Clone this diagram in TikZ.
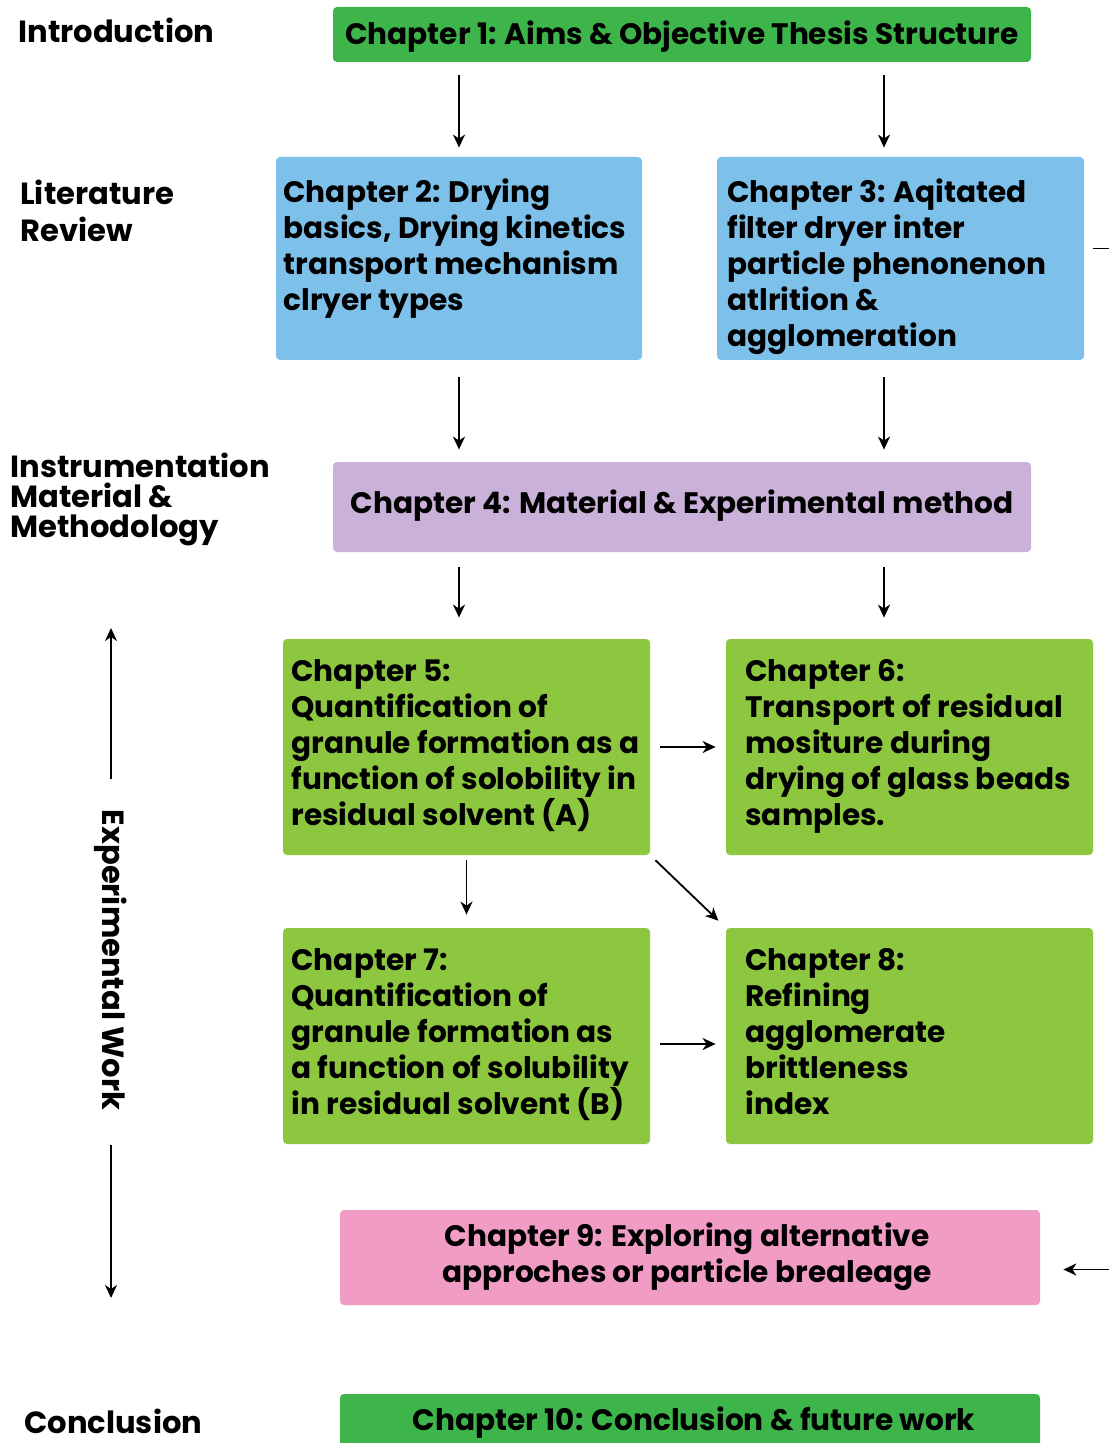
\documentclass[tikz,border=0pt]{standalone}
\usepackage{fontspec}
\setmainfont{Poppins}
\usetikzlibrary{arrows.meta,calc,fit}
\definecolor{dgreen}{HTML}{3DB54A}
\definecolor{lblue}{HTML}{7DC1EB}
\definecolor{lav}{HTML}{C9B1D9}
\definecolor{lime}{HTML}{8DC63F}
\definecolor{pinkc}{HTML}{F09CC4}
\begin{document}
\begin{tikzpicture}[x=0.5pt,y=-0.5pt,
  box/.style={inner sep=0pt, rounded corners=2pt, draw=none},
  txt/.style={inner sep=0pt, align=left, font=\fontsize{14.8}{18}\selectfont\bfseries},
  ctxt/.style={inner sep=0pt, align=center, font=\fontsize{14.8}{18}\selectfont\bfseries},
  side/.style={inner sep=0pt, align=left, font=\fontsize{15.3}{18.5}\selectfont\bfseries},
  arr/.style={line width=0.9pt, -{Stealth[length=6.5pt,width=6pt,inset=2pt]}}]
\useasboundingbox (0,0) rectangle (1108,1443);
% boxes
\node[box, fill=dgreen, fit={(333,7)(1031,62)}] (c1) {};
\node[box, fill=lblue, fit={(276,157)(642,360)}] (c2) {};
\node[box, fill=lblue, fit={(717,157)(1084,360)}] (c3) {};
\node[box, fill=lav, fit={(333,462)(1031,552)}] (c4) {};
\node[box, fill=lime, fit={(283,639)(650,855)}] (c5) {};
\node[box, fill=lime, fit={(726,639)(1093,855)}] (c6) {};
\node[box, fill=lime, fit={(283,928)(650,1144)}] (c7) {};
\node[box, fill=lime, fit={(726,928)(1093,1144)}] (c8) {};
\node[box, fill=pinkc, fit={(340,1210)(1040,1305)}] (c9) {};
\node[box, fill=dgreen, fit={(340,1394)(1040,1460)}] (c10) {};
% texts
\node[ctxt] (c1t) at (682,37) {Chapter 1: Aims \& Objective Thesis Structure};
\node[txt, anchor=north west] (c2t) at (283,178) {Chapter 2: Drying\\basics, Drying kinetics\\transport mechanism\\clryer types};
\node[txt, anchor=north west] (c3t) at (727,178) {Chapter 3: Aqitated\\filter dryer inter\\particle phenonenon\\atlrition \&\\agglomeration};
\node[ctxt] (c4t) at (682,506) {Chapter 4: Material \& Experimental method};
\node[txt, anchor=north west] (c5t) at (291,659) {Chapter 5:\\Quantification of\\granule formation as a\\function of solobility in\\residual solvent (A)};
\node[txt, anchor=north west] (c6t) at (745,659) {Chapter 6:\\Transport of residual\\mositure during\\drying of glass beads\\samples.};
\node[txt, anchor=north west] (c7t) at (291,948) {Chapter 7:\\Quantification of\\granule formation as\\a function of solubility\\in residual solvent (B)};
\node[txt, anchor=north west] (c8t) at (745,948) {Chapter 8:\\Refining\\agglomerate\\brittleness\\index};
\node[ctxt] (c9t) at (687,1257) {Chapter 9: Exploring alternative\\approches or particle brealeage};
\node[ctxt] (c10t) at (694,1423) {Chapter 10: Conclusion \& future work};
% side labels
\node[side, anchor=west] (l1) at (18,30) {Introduction};
\node[side, anchor=north west] (l2) at (20,180) {Literature\\Review};
\node[side, anchor=north west, font=\fontsize{15.3}{15}\selectfont\bfseries] (l3) at (10,453) {Instrumentation\\Material \&\\Methodology};
\node[side, anchor=west] (l4) at (24,1421) {Conclusion};
\node[side, rotate=-90] (ew) at (111,960) {Experimental Work};
\coordinate (ewtop) at (111,628);
\coordinate (ewbot) at (111,1298);
\coordinate (xr) at (884,0);
\coordinate (rt) at (1140,0);
% connectors
\draw[arr, shorten <=6.5pt, shorten >=4.5pt] (c1.south -| c2.north) -- (c2.north);
\draw[arr, shorten <=6.5pt, shorten >=4.5pt] (xr |- c1.south) -- (xr |- c3.north);
\draw[arr, shorten <=8.5pt, shorten >=6pt] (c2.south) -- (c2.south |- c4.north);
\draw[arr, shorten <=8.5pt, shorten >=6pt] (xr |- c3.south) -- (xr |- c4.north);
\draw[arr, shorten <=7.5pt, shorten >=10.5pt] (c4.south -| c2.south) -- (c2.south |- c5.north);
\draw[arr, shorten <=7.5pt, shorten >=10.5pt] (xr |- c4.south) -- (xr |- c6.north);
\draw[arr, shorten <=5pt, shorten >=5pt] (c5.east) -- (c5.east -| c6.west);
\draw[arr, shorten <=2.5pt, shorten >=6.5pt] (c5.south) -- (c7.north);
\draw[arr, shorten <=3.5pt, shorten >=5pt] (c5.south east) -- (c8.north west);
\draw[arr, shorten <=5pt, shorten >=5pt] ([yshift=-4pt]c7.east) -- ([yshift=-4pt]c7.east -| c8.west);
\draw[arr, shorten <=4.5pt, shorten >=11.5pt] ([yshift=5pt]c3.east) -- ([yshift=5pt]c3.east -| rt) |- ([yshift=-6pt]c9.east);
\draw[arr, shorten <=15pt] (ew.west) -- (ewtop);
\draw[arr, shorten <=17pt] (ew.east) -- (ewbot);
\end{tikzpicture}
\end{document}
